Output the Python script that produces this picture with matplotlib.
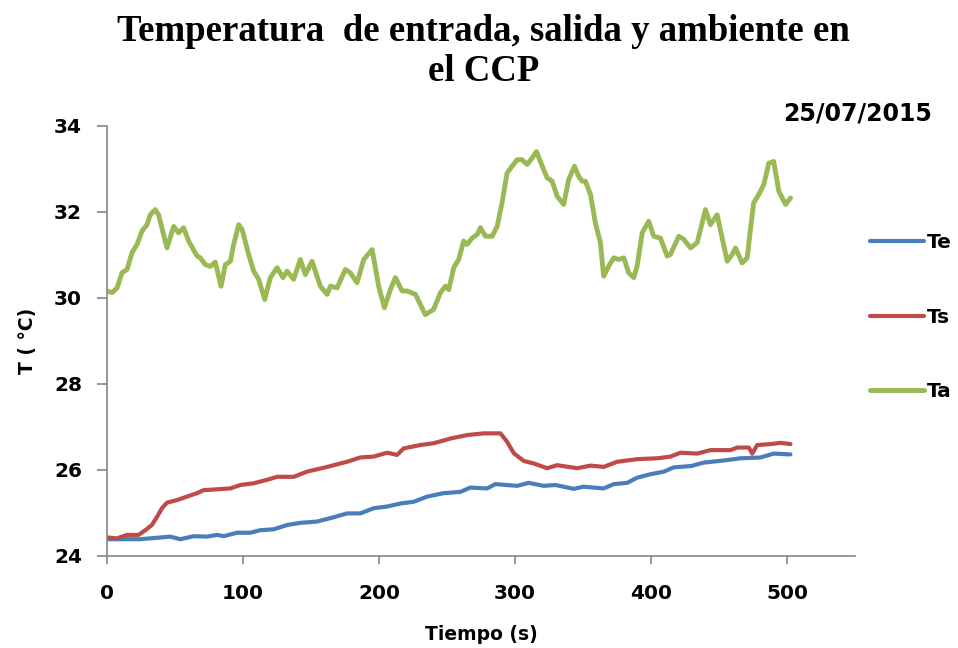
import numpy as np
import matplotlib.pyplot as plt

# ----- data -----
t_e = [0, 9.8, 24.5, 39.2, 46.5, 53.9, 63.7, 73.5, 80.9, 85.7, 95.6, 105.4, 112.7,
       122.5, 132.4, 142.1, 154.4, 166.6, 176.5, 186.3, 196, 205.9, 215.7, 225.4,
       235.3, 247.5, 259.8, 267.1, 279.4, 285.5, 301.5, 310, 321, 329.6, 343.1,
       350.4, 365.1, 372.5, 382.4, 389.7, 399.5, 409.3, 416.6, 429.3, 438.7,
       453.4, 465.7, 480.4, 490.1, 502.4]
Te = [24.39, 24.39, 24.39, 24.43, 24.45, 24.39, 24.46, 24.45, 24.49, 24.46, 24.54,
      24.54, 24.60, 24.62, 24.72, 24.77, 24.80, 24.90, 24.99, 24.99, 25.11, 25.15,
      25.22, 25.26, 25.38, 25.46, 25.49, 25.59, 25.57, 25.67, 25.63, 25.70, 25.63,
      25.65, 25.56, 25.61, 25.57, 25.67, 25.70, 25.82, 25.90, 25.96, 26.06, 26.09,
      26.17, 26.22, 26.27, 26.29, 26.38, 26.36]

t_s = [0, 7.4, 14.7, 23.2, 28.2, 33, 36.8, 40.4, 44.1, 51.5, 58.8, 66.2, 71, 80.9,
       90.7, 98, 107.8, 117.6, 125, 137.2, 147, 161.8, 176.5, 186.3, 196, 205.9,
       213.2, 218.1, 230.4, 240.1, 252.4, 264.7, 277, 289.2, 294, 299, 306.3,
       313.7, 323.5, 330.9, 345.6, 355.4, 365.1, 375, 389.7, 404.4, 414.2, 421.5,
       433.8, 443.6, 458.3, 463.2, 471.8, 474.3, 478, 487.7, 495.1, 502.4]
Ts = [24.43, 24.41, 24.49, 24.49, 24.60, 24.72, 24.91, 25.11, 25.24, 25.30, 25.38,
      25.46, 25.53, 25.55, 25.57, 25.65, 25.69, 25.77, 25.84, 25.84, 25.96, 26.07,
      26.19, 26.29, 26.31, 26.40, 26.35, 26.50, 26.58, 26.62, 26.73, 26.81, 26.85,
      26.85, 26.66, 26.39, 26.21, 26.15, 26.04, 26.11, 26.04, 26.10, 26.07, 26.19,
      26.25, 26.27, 26.31, 26.40, 26.38, 26.46, 26.46, 26.52, 26.52, 26.38, 26.58,
      26.60, 26.63, 26.60]

t_a = [0, 3.7, 7.4, 11, 14.7, 18.4, 22.1, 25.7, 29.4, 31.8, 35.5, 37.9, 44.1, 49,
       52.6, 56.3, 60, 66.2, 68.6, 72.3, 76, 79.6, 83.8, 87, 90.7, 93.1, 96.8,
       99.3, 104.1, 107.8, 111.5, 115.9, 120.1, 125, 129.4, 132.4, 137.2, 142.1,
       145.8, 150.7, 156.8, 161.8, 164.2, 169.1, 175.2, 178.9, 183.8, 188.7,
       194.9, 199.7, 203.9, 208.3, 212, 216.9, 220.6, 226.7, 234, 240.1, 245.1,
       248.8, 251.2, 254.9, 258.5, 262.2, 264.7, 268.4, 272.1, 274.5, 278.2,
       283.1, 286.8, 290.4, 294.1, 297.8, 301.5, 305.1, 308.8, 312.5, 315.7,
       319.9, 323.5, 327.2, 330.9, 335.7, 339.4, 343.6, 346.8, 349.3, 351.7,
       355.4, 359, 362.7, 365.1, 368.8, 372.5, 376.2, 379.9, 383.5, 387.2, 389.7,
       393.4, 398.2, 401.9, 406.8, 411.8, 414.2, 420.3, 424, 428.9, 433.8, 436.3,
       439.9, 443.6, 448.5, 452.2, 455.9, 459.6, 462, 466.9, 470.6, 473, 475.4,
       479.1, 482.8, 486.5, 490.1, 493.8, 498.8, 502.4]
Ta = [30.16, 30.12, 30.23, 30.58, 30.66, 31.05, 31.24, 31.55, 31.70, 31.93, 32.05,
      31.93, 31.16, 31.66, 31.51, 31.63, 31.32, 30.97, 30.93, 30.77, 30.73, 30.83,
      30.27, 30.77, 30.85, 31.24, 31.70, 31.59, 31.01, 30.62, 30.43, 29.96, 30.47,
      30.70, 30.47, 30.62, 30.43, 30.89, 30.54, 30.85, 30.27, 30.08, 30.27, 30.23,
      30.66, 30.58, 30.35, 30.89, 31.12, 30.27, 29.77, 30.19, 30.47, 30.16, 30.16,
      30.08, 29.61, 29.73, 30.12, 30.27, 30.19, 30.70, 30.89, 31.32, 31.24, 31.39,
      31.47, 31.63, 31.43, 31.43, 31.66, 32.21, 32.90, 33.06, 33.21, 33.21, 33.10,
      33.25, 33.40, 33.06, 32.79, 32.71, 32.36, 32.17, 32.75, 33.06, 32.82, 32.71,
      32.71, 32.40, 31.74, 31.28, 30.50, 30.74, 30.93, 30.89, 30.93, 30.58, 30.47,
      30.74, 31.51, 31.78, 31.43, 31.39, 30.97, 31.01, 31.43, 31.36, 31.16, 31.28,
      31.59, 32.05, 31.70, 31.93, 31.39, 30.85, 31.01, 31.16, 30.81, 30.93, 31.59,
      32.21, 32.40, 32.63, 33.13, 33.17, 32.48, 32.17, 32.32]

x_ticks = [0, 100, 200, 300, 400, 500]
y_ticks = [24, 26, 28, 30, 32, 34]

sans = "DejaVu Sans"
grey = "#868686"

fig = plt.figure(figsize=(9.58, 6.48), dpi=100)
ax = fig.add_axes([0.1117, 0.142, 0.781, 0.664])

ax.plot(t_e, Te, color="#4A7EBB", lw=3.0, label="Te", solid_capstyle="round")
ax.plot(t_s, Ts, color="#BE4B48", lw=3.0, label="Ts", solid_capstyle="round")
ax.plot(t_a, Ta, color="#98B954", lw=3.5, label="Ta", solid_capstyle="round")

ax.set_xlim(0, 550)
ax.set_ylim(24, 34)
ax.set_xticks(x_ticks)
ax.set_yticks(y_ticks)
for s in ["top", "right"]:
    ax.spines[s].set_visible(False)
for s in ["left", "bottom"]:
    ax.spines[s].set_color(grey)
    ax.spines[s].set_linewidth(1.2)
ax.tick_params(colors=grey, width=1.2, labelcolor="black")
ax.tick_params(axis="x", length=6, pad=14)
ax.tick_params(axis="y", length=7, pad=11)
for lab in ax.get_xticklabels() + ax.get_yticklabels():
    lab.set_fontfamily(sans)
    lab.set_fontweight("bold")
    lab.set_fontsize(14.5)

ax.set_xlabel("Tiempo (s)", fontfamily=sans, fontweight="bold", fontsize=13.5, labelpad=16)
ax.set_ylabel("T ( °C)", fontfamily=sans, fontweight="bold", fontsize=13.5, labelpad=12)

fig.suptitle("Temperatura  de entrada, salida y ambiente en\nel CCP",
             fontfamily="Liberation Serif", fontweight="bold", fontsize=26.5,
             x=0.505, y=0.978, linespacing=1.19)
fig.text(0.973, 0.825, "25/07/2015", ha="right", va="center",
         fontfamily=sans, fontweight="bold", fontsize=17)

leg = ax.legend(frameon=False, loc="center left", bbox_to_anchor=(0.995, 0.555),
                prop={"family": sans, "weight": "bold", "size": 14.5},
                handlelength=2.7, handletextpad=0.15, labelspacing=2.75)

fig.savefig("out.png", dpi=100)
